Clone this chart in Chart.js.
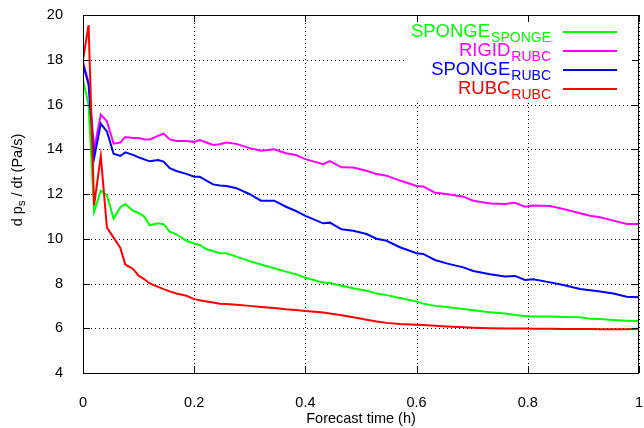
<!DOCTYPE html>
<html>
<head>
<meta charset="utf-8">
<script src="https://cdn.jsdelivr.net/npm/chart.js@4.4.1/dist/chart.umd.min.js"></script>
<style>
  html, body { margin: 0; padding: 0; background: #fff; }
  #c { display: block; }
</style>
</head>
<body>
<canvas id="c" width="644" height="428"></canvas>
<script>
// forecast time (h)
var times = [0, 0.01, 0.02, 0.032, 0.043, 0.055, 0.067, 0.076, 0.09, 0.1, 0.11, 0.12, 0.135, 0.145, 0.156, 0.168, 0.186,
    0.2, 0.21, 0.222, 0.234, 0.246, 0.258, 0.276, 0.3, 0.32, 0.344, 0.365, 0.383, 0.4, 0.432, 0.444, 0.465, 0.486,
    0.51, 0.528, 0.546, 0.57, 0.6, 0.612, 0.633, 0.654, 0.684, 0.702, 0.732, 0.759, 0.777, 0.795, 0.81, 0.84,
    0.864, 0.894, 0.912, 0.93, 0.954, 0.978, 1.0];

var spongeSponge = [17.1, 16.0, 11.2, 12.15, 11.95, 10.9, 11.4, 11.55, 11.25, 11.15, 11.0, 10.6, 10.69, 10.65, 10.32, 10.2, 9.91,
    9.79, 9.72, 9.53, 9.45, 9.35, 9.35, 9.2, 9.0, 8.85, 8.68, 8.53, 8.42, 8.26, 8.04, 8.02, 7.9, 7.79,
    7.68, 7.55, 7.48, 7.35, 7.2, 7.1, 7.0, 6.95, 6.86, 6.8, 6.71, 6.66, 6.59, 6.55, 6.52, 6.52,
    6.5, 6.49, 6.43, 6.41, 6.37, 6.34, 6.32];

var rigidRubc = [17.9, 17.0, 14.0, 15.55, 15.25, 14.25, 14.3, 14.55, 14.5, 14.5, 14.45, 14.44, 14.6, 14.7, 14.44, 14.37, 14.37,
    14.33, 14.41, 14.3, 14.19, 14.22, 14.3, 14.24, 14.05, 13.93, 14.0, 13.82, 13.74, 13.56, 13.33, 13.47, 13.19, 13.18,
    13.04, 12.89, 12.82, 12.6, 12.36, 12.34, 12.06, 12.0, 11.88, 11.7, 11.58, 11.55, 11.61, 11.43, 11.49, 11.46,
    11.33, 11.14, 11.03, 10.96, 10.81, 10.66, 10.66];

var spongeRubc = [17.8, 16.9, 13.6, 15.15, 14.8, 13.8, 13.7, 13.86, 13.75, 13.64, 13.55, 13.46, 13.52, 13.45, 13.15, 13.03, 12.9,
    12.77, 12.77, 12.6, 12.43, 12.38, 12.36, 12.26, 11.99, 11.7, 11.7, 11.43, 11.24, 11.02, 10.69, 10.72, 10.42, 10.36,
    10.21, 10.0, 9.91, 9.62, 9.35, 9.32, 9.05, 8.9, 8.72, 8.56, 8.41, 8.31, 8.34, 8.16, 8.19, 8.05,
    7.93, 7.75, 7.7, 7.64, 7.55, 7.41, 7.38];

var rubcRubc = [18.0, 19.55, 11.5, 13.7, 10.5, 10.05, 9.6, 8.85, 8.65, 8.35, 8.2, 8.0, 7.85, 7.75, 7.65, 7.55, 7.45,
    7.3, 7.25, 7.2, 7.15, 7.1, 7.08, 7.05, 7.0, 6.95, 6.9, 6.85, 6.82, 6.77, 6.7, 6.66, 6.58, 6.49,
    6.38, 6.3, 6.24, 6.19, 6.16, 6.14, 6.11, 6.08, 6.04, 6.02, 6.0, 5.99, 5.99, 5.99, 5.98, 5.98,
    5.97, 5.97, 5.97, 5.96, 5.96, 5.96, 5.98];

var seriesNames = [["SPONGE", "SPONGE"], ["RIGID", "RUBC"], ["SPONGE", "RUBC"], ["RUBC", "RUBC"]];
var seriesColors = ["#00ff00", "#ff00ff", "#0000ff", "#ff0000"];

var FONT = "'Liberation Sans', Arial, sans-serif";

function toPoints(ys) {
    return times.map(function (t, i) { return { x: t, y: ys[i] }; });
}

var allSeries = [spongeSponge, rigidRubc, spongeRubc, rubcRubc];
var datasets = allSeries.map(function (ys, i) {
    return {
        label: seriesNames[i][0] + seriesNames[i][1],
        data: toPoints(ys),
        borderColor: seriesColors[i],
        borderWidth: 2,
        pointRadius: 0,
        tension: 0,
        fill: false,
        order: 3 - i
    };
});

// dotted grid behind the curves
var dottedGrid = {
    id: "dottedGrid",
    beforeDatasetsDraw: function (chart) {
        var ctx = chart.ctx;
        var a = chart.chartArea;
        var xs = chart.scales.x, ys = chart.scales.y;
        ctx.save();
        ctx.strokeStyle = "#000";
        ctx.lineWidth = 1;
        ctx.setLineDash([1, 3]);
        ctx.beginPath();
        xs.ticks.forEach(function (t) {
            var px = Math.round(xs.getPixelForValue(t.value)) + 0.5;
            ctx.moveTo(px, a.top); ctx.lineTo(px, a.bottom);
        });
        ys.ticks.forEach(function (t) {
            var py = Math.round(ys.getPixelForValue(t.value)) + 0.5;
            ctx.moveTo(a.left, py); ctx.lineTo(a.right, py);
        });
        ctx.stroke();
        ctx.restore();
    }
};

// frame, inward ticks, key and axis titles in gnuplot style
var gnuplotDecor = {
    id: "gnuplotDecor",
    afterDatasetsDraw: function (chart) {
        var ctx = chart.ctx;
        var a = chart.chartArea;
        var xs = chart.scales.x, ys = chart.scales.y;
        ctx.save();

        // key box hides the grid behind it
        ctx.fillStyle = "#fff";
        ctx.fillRect(405, a.top + 1, a.right - 406, 85);

        ctx.strokeStyle = "#000";
        ctx.lineWidth = 1;
        ctx.strokeRect(a.left + 0.5, a.top + 0.5, a.right - a.left - 1, a.bottom - a.top);

        ctx.beginPath();
        xs.ticks.forEach(function (t) {
            var px = Math.round(xs.getPixelForValue(t.value)) + 0.5;
            ctx.moveTo(px, a.bottom); ctx.lineTo(px, a.bottom - 7);
            ctx.moveTo(px, a.top); ctx.lineTo(px, a.top + 7);
        });
        ys.ticks.forEach(function (t) {
            var py = Math.round(ys.getPixelForValue(t.value)) + 0.5;
            ctx.moveTo(a.left, py); ctx.lineTo(a.left + 7, py);
            ctx.moveTo(a.right, py); ctx.lineTo(a.right - 7, py);
        });
        ctx.stroke();

        // key
        seriesNames.forEach(function (nm, i) {
            var ly = 32 + 19 * i;
            ctx.fillStyle = seriesColors[i];
            ctx.textAlign = "left";
            ctx.textBaseline = "alphabetic";
            ctx.font = "14px " + FONT;
            var subW = ctx.measureText(nm[1]).width;
            ctx.font = "18.5px " + FONT;
            var mainW = ctx.measureText(nm[0]).width;
            var right = 551;
            ctx.fillText(nm[0], right - subW - mainW - 1, ly + 5);
            ctx.font = "14px " + FONT;
            ctx.fillText(nm[1], right - subW, ly + 10);

            ctx.strokeStyle = seriesColors[i];
            ctx.lineWidth = 2;
            ctx.beginPath();
            ctx.moveTo(563, ly);
            ctx.lineTo(617, ly);
            ctx.stroke();
        });

        // axis titles
        ctx.fillStyle = "#000";
        ctx.font = "14.5px " + FONT;
        ctx.textAlign = "center";
        ctx.textBaseline = "middle";
        ctx.fillText("Forecast time (h)", (a.left + a.right) / 2, 419);

        var parts = [["d p", 0, 14.5], ["s", 4, 11], [" / dt (Pa/s)", 0, 14.5]];
        var total = 0;
        parts.forEach(function (p) { ctx.font = p[2] + "px " + FONT; p.push(ctx.measureText(p[0]).width); total += p[3]; });
        ctx.translate(18, 180);
        ctx.rotate(-Math.PI / 2);
        ctx.textAlign = "left";
        var cx = -total / 2;
        parts.forEach(function (p) {
            ctx.font = p[2] + "px " + FONT;
            ctx.fillText(p[0], cx, p[1]);
            cx += p[3];
        });
        ctx.restore();
    }
};

new Chart(document.getElementById("c"), {
    type: "line",
    data: { datasets: datasets },
    plugins: [dottedGrid, gnuplotDecor],
    options: {
        responsive: false,
        animation: false,
        layout: { padding: { left: 0, top: 15, right: 5, bottom: 0 } },
        plugins: { legend: { display: false }, tooltip: { enabled: false } },
        scales: {
            x: {
                type: "linear",
                min: 0,
                max: 1,
                afterFit: function (scale) {
                    scale.height = 55;
                    scale.paddingLeft = 0;
                    scale.paddingRight = 0;
                },
                ticks: {
                    stepSize: 0.2,
                    color: "#000",
                    padding: 13,
                    maxRotation: 0,
                    font: { family: FONT, size: 14.5 },
                    callback: function (v) { return String(Number(v.toFixed(2))); }
                },
                grid: { display: false },
                border: { display: false }
            },
            y: {
                min: 4,
                max: 20,
                afterFit: function (scale) {
                    scale.width = 83;
                    scale.paddingTop = 0;
                    scale.paddingBottom = 0;
                },
                ticks: { stepSize: 2, color: "#000", padding: 12, font: { family: FONT, size: 14.5 } },
                grid: { display: false },
                border: { display: false }
            }
        }
    }
});
</script>
</body>
</html>
